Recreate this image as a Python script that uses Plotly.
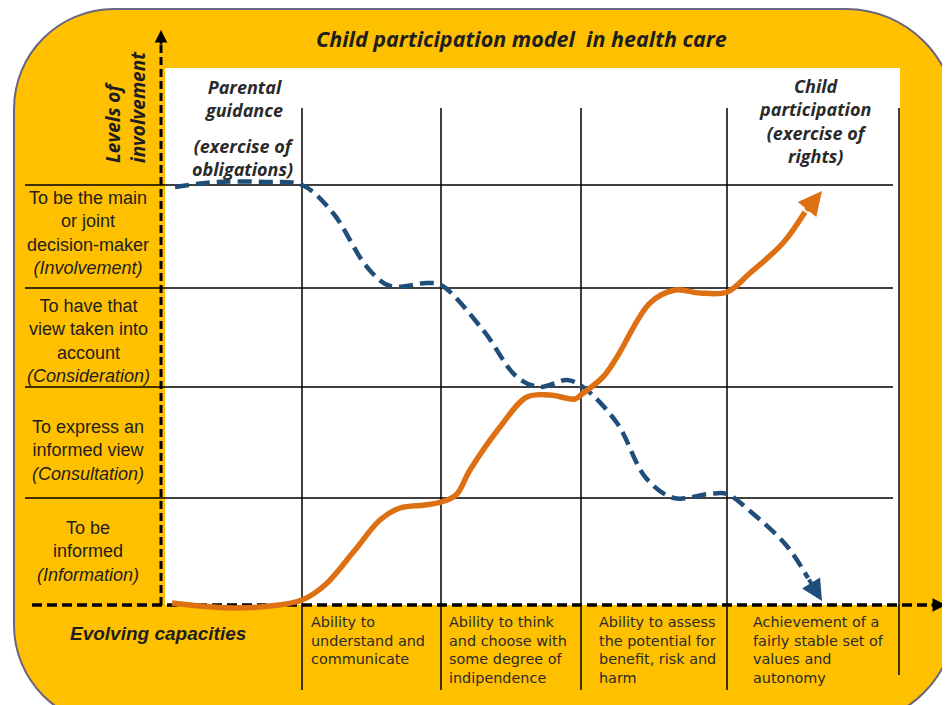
import plotly.graph_objects as go

W, H = 950, 705

# ---------------- texts ----------------
title_text = "Child participation model&nbsp; in health care"
y_axis_title = "Levels of<br>involvement"
x_axis_title = "Evolving capacities"
left_header = ["Parental<br>guidance", "(exercise of<br>obligations)"]
right_header = "Child<br>participation<br>(exercise of<br>rights)"

level_labels = [
    "To be the main<br>or joint<br>decision-maker<br><i>(Involvement)</i>",
    "To have that<br>view taken into<br>account<br><i>(Consideration)</i>",
    "To express an<br>informed view<br><i>(Consultation)</i>",
    "To be<br>informed<br><i>(Information)</i>",
]
capacity_labels = [
    ["Ability to", "understand and", "communicate"],
    ["Ability to think", "and choose with", "some degree of", "indipendence"],
    ["Ability to assess", "the potential for", "benefit, risk and", "harm"],
    ["Achievement of a", "fairly stable set of", "values and", "autonomy"],
]

# ---------------- diagram scale (x right, y down) ----------------
column_edges = [302, 441, 581, 727, 899]
level_edges = [185, 288, 387, 498]
level_label_centres = [233, 341, 450, 551]
capacity_label_x = [310, 448, 598, 752]

# parental guidance curve (dashed blue); last point = arrow tip
parent_x = [175, 217, 267, 302, 333, 367, 390, 427, 441, 483, 517, 540, 567,
            583, 617, 646, 674, 709, 727, 751, 786, 808, 822]
parent_y = [187, 182, 182, 185, 213, 267, 286, 283, 285, 330, 377, 387, 380,
            387, 423, 478, 498, 494, 494, 512, 545, 578, 601]

# child participation curve (solid orange); last point = arrow tip
child_x = [172, 200, 233, 270, 302, 325, 355, 380, 400, 425, 441, 456, 470,
           500, 527, 550, 575, 582, 603, 617, 650, 675, 700, 727, 750, 783, 805, 822]
child_y = [603, 606, 608, 606, 600, 585, 550, 520, 508, 505, 502, 495, 470,
           427, 397, 395, 399, 394, 377, 357, 303, 290, 293, 292, 273, 243, 212, 191]

YELLOW = "#FFC000"
BLUE = "#1F4E7A"
ORANGE = "#DD7012"
TXT = "#1E1E1E"
HEAD_FONT = "Open Sans"

fig = go.Figure()

# ---------- background shapes ----------
x0, x1, y0, y1 = 14, 956, 9, 725
r_tl, r_tr, r_br, r_bl = 100, 110, 110, 100
k = 0.5523
path = (
    f"M {x0 + r_tl},{y0} L {x1 - r_tr},{y0} "
    f"C {x1 - r_tr + k * r_tr},{y0} {x1},{y0 + r_tr - k * r_tr} {x1},{y0 + r_tr} "
    f"L {x1},{y1 - r_br} "
    f"C {x1},{y1 - r_br + k * r_br} {x1 - r_br + k * r_br},{y1} {x1 - r_br},{y1} "
    f"L {x0 + r_bl},{y1} "
    f"C {x0 + r_bl - k * r_bl},{y1} {x0},{y1 - r_bl + k * r_bl} {x0},{y1 - r_bl} "
    f"L {x0},{y0 + r_tl} "
    f"C {x0},{y0 + r_tl - k * r_tl} {x0 + r_tl - k * r_tl},{y0} {x0 + r_tl},{y0} Z"
)
shapes = [
    dict(type="path", path=path, fillcolor=YELLOW,
         line=dict(color="#6A6480", width=2), layer="below"),
    dict(type="rect", x0=165, x1=900, y0=68, y1=605, fillcolor="white",
         line=dict(width=0), layer="below"),
]
for ly in level_edges:
    shapes.append(dict(type="line", x0=25, x1=893, y0=ly, y1=ly,
                       line=dict(color="black", width=1.5), layer="below"))
for i, cx in enumerate(column_edges):
    shapes.append(dict(type="line", x0=cx, x1=cx, y0=108,
                       y1=675 if i == len(column_edges) - 1 else 690,
                       line=dict(color="black", width=1.5), layer="below"))
# dashed axes
shapes.append(dict(type="line", x0=161, x1=161, y0=605, y1=42,
                   line=dict(color="black", width=3, dash="8px,4px"), layer="below"))
shapes.append(dict(type="line", x0=32, x1=934, y0=605, y1=605,
                   line=dict(color="black", width=3.5, dash="10px,5px"), layer="below"))

# ---------- curves ----------
fig.add_trace(go.Scatter(
    x=parent_x[:-1], y=parent_y[:-1], mode="lines",
    line=dict(color=BLUE, width=4.5, dash="14px,7px", shape="spline", smoothing=1.0),
    hoverinfo="skip", showlegend=False))
fig.add_trace(go.Scatter(
    x=child_x[:-1], y=child_y[:-1], mode="lines",
    line=dict(color=ORANGE, width=5.5, shape="spline", smoothing=1.0),
    hoverinfo="skip", showlegend=False))

annotations = []


def arrow(xt, yt, xs, ys, color, width, size):
    annotations.append(dict(x=xt, y=yt, ax=xs, ay=ys, xref="x", yref="y",
                            axref="x", ayref="y", showarrow=True, text="",
                            arrowhead=2, arrowwidth=width, arrowsize=size,
                            arrowcolor=color))


arrow(parent_x[-1], parent_y[-1], parent_x[-2], parent_y[-2], BLUE, 4, 1.05)
arrow(child_x[-1], child_y[-1], child_x[-2], child_y[-2], ORANGE, 5, 0.95)
arrow(161, 30, 161, 46, "black", 2.5, 1.0)
arrow(946, 605, 930, 605, "black", 3, 0.9)


def text(x, y, t, size, family="Liberation Sans", xanchor="center",
         yanchor="middle", align="center", angle=0, color=TXT):
    annotations.append(dict(x=x, y=y, xref="x", yref="y", text=t, showarrow=False,
                            xanchor=xanchor, yanchor=yanchor, align=align,
                            textangle=angle, borderpad=0,
                            font=dict(family=family, size=size, color=color)))


text(521, 38, f"<b><i>{title_text}</i></b>", 21.5, family=HEAD_FONT)
text(125, 107, f"<b><i>{y_axis_title}</i></b>", 19, family=HEAD_FONT,
     align="left", angle=-90)
text(243, 98.5, f"<b><i>{left_header[0]}</i></b>", 18, family=HEAD_FONT, color="#2A2A2A")
text(243, 157.5, f"<b><i>{left_header[1]}</i></b>", 18, family=HEAD_FONT, color="#2A2A2A")
text(815, 121, f"<b><i>{right_header}</i></b>", 18, family=HEAD_FONT, color="#2A2A2A")
text(158, 633, f"<b><i>{x_axis_title}</i></b>", 19)

for lbl, cy in zip(level_labels, level_label_centres):
    text(88, cy, lbl, 18)

line_gap = 18.7
for lines, lx in zip(capacity_labels, capacity_label_x):
    n = len(lines)
    text(lx, 622 + (n - 1) * line_gap / 2, "<br>".join(lines), 14.4,
         family="DejaVu Sans", xanchor="left", align="left", color="#2B2B2B")

# the page body adds an 8px margin; shift the visible window to compensate
OFF = 8
fig.update_layout(
    width=W, height=H, margin=dict(l=0, r=0, t=0, b=0),
    paper_bgcolor="white", plot_bgcolor="white",
    xaxis=dict(range=[OFF, W + OFF], visible=False, fixedrange=True),
    yaxis=dict(range=[H + OFF, OFF], visible=False, fixedrange=True),
    shapes=shapes, annotations=annotations, showlegend=False,
)

fig.write_html("out.html")
